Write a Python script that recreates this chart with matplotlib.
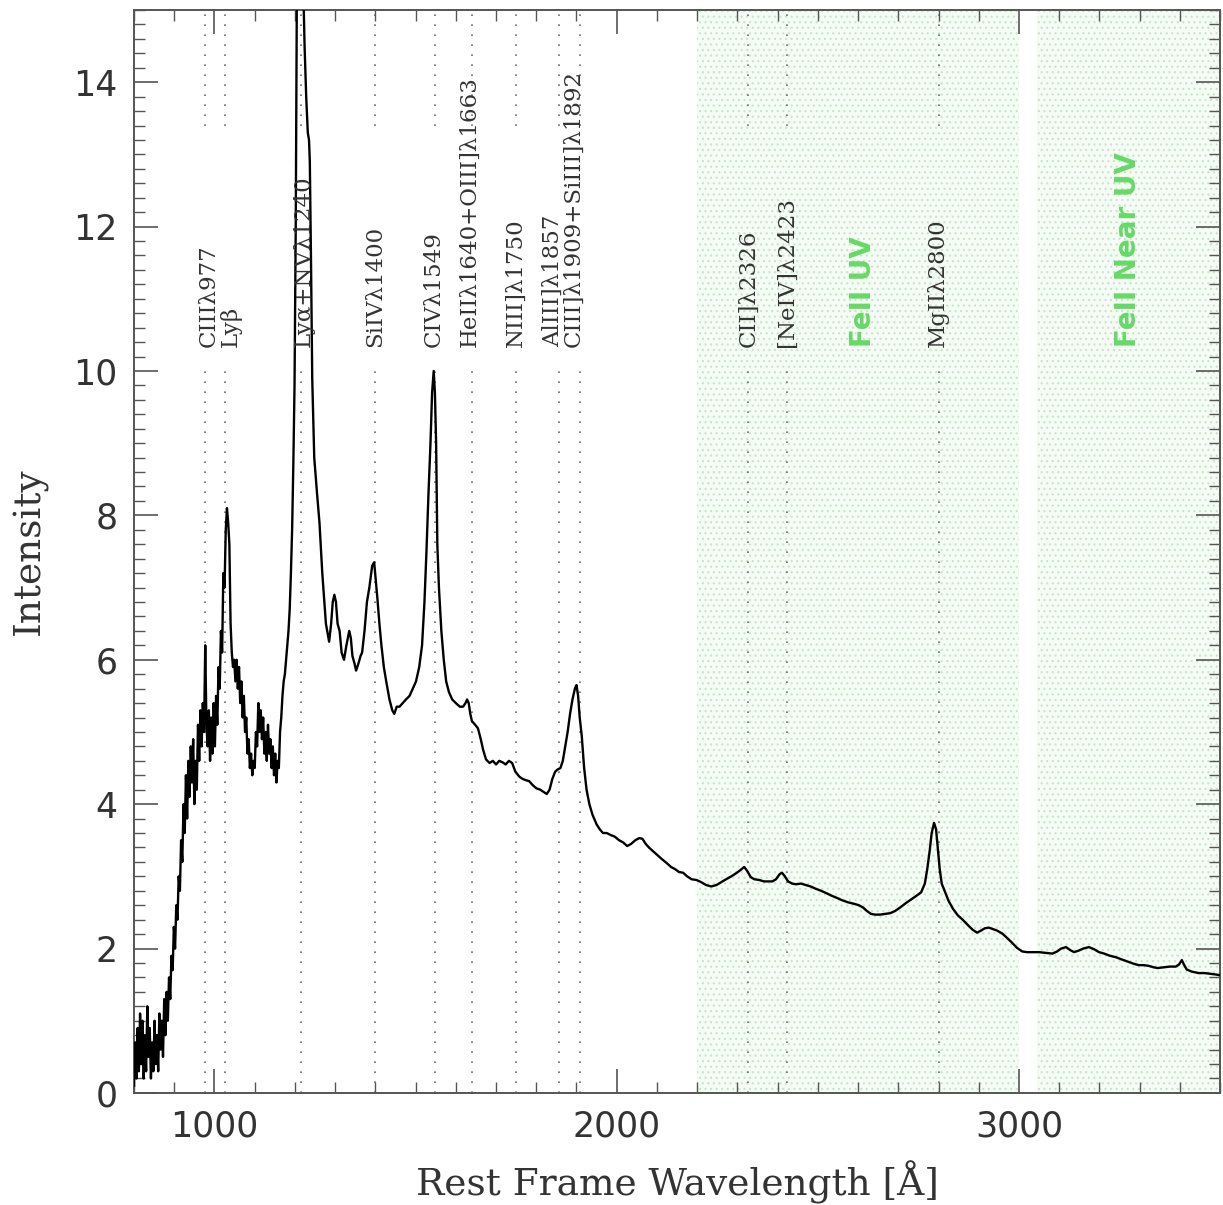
import matplotlib
matplotlib.use('Agg')
import matplotlib.pyplot as plt
from matplotlib.ticker import MultipleLocator
import numpy as np

# composite spectrum, rest frame wavelength [A] and intensity
wave = [800, 803, 806, 809, 812, 815, 818, 821, 824, 827, 830, 833, 836, 839, 842, 845, 848,
        851, 854, 857, 860, 863, 866, 869, 872, 875, 878, 881, 884, 887, 890, 893, 896, 899,
        902, 905, 908, 911, 914, 917, 920, 923, 926, 929, 932, 935, 938, 941, 944, 947, 950,
        953, 956, 959, 962, 965, 968, 971, 974, 977, 980, 983, 986, 989, 992, 995, 998, 1001,
        1004, 1007, 1010, 1013, 1016, 1019, 1022, 1025, 1028, 1031, 1034, 1037, 1040, 1043,
        1046, 1049, 1052, 1055, 1058, 1061, 1064, 1067, 1070, 1073, 1076, 1079, 1082, 1085,
        1088, 1091, 1094, 1097, 1100, 1103, 1106, 1109, 1112, 1115, 1118, 1121, 1124, 1127,
        1130, 1133, 1136, 1139, 1142, 1145, 1148, 1151, 1154, 1157, 1160, 1163, 1166, 1169,
        1172, 1175, 1178, 1181, 1184, 1187, 1190, 1193, 1196, 1199, 1202, 1205, 1208, 1212,
        1216, 1220, 1224, 1228, 1232, 1235, 1237, 1240, 1243, 1248, 1255, 1261, 1268, 1277,
        1285, 1290, 1294, 1298, 1302, 1306, 1311, 1316, 1322, 1328, 1335, 1339, 1343, 1348,
        1352, 1358, 1363, 1367, 1373, 1379, 1385, 1392, 1397, 1401, 1405, 1410, 1415, 1421,
        1427, 1435, 1442, 1447, 1453, 1460, 1468, 1476, 1485, 1493, 1501, 1509, 1516, 1522,
        1527, 1532, 1537, 1541, 1545, 1548, 1551, 1554, 1558, 1564, 1570, 1576, 1583, 1591,
        1600, 1610, 1618, 1624, 1628, 1632, 1636, 1640, 1648, 1655, 1662, 1668, 1675, 1684,
        1692, 1700, 1708, 1716, 1724, 1732, 1740, 1748, 1758, 1766, 1775, 1782, 1790, 1800,
        1810, 1818, 1826, 1833, 1840, 1847, 1853, 1860, 1866, 1872, 1878, 1884, 1890, 1896,
        1900, 1904, 1908, 1913, 1919, 1925, 1932, 1940, 1950, 1958, 1966, 1975, 1986, 1995,
        2006, 2016, 2026, 2036, 2046, 2056, 2064, 2072, 2080, 2088, 2100, 2112, 2123, 2135,
        2145, 2155, 2165, 2175, 2186, 2198, 2210, 2222, 2235, 2248, 2260, 2272, 2285, 2296,
        2306, 2317, 2325, 2333, 2342, 2354, 2366, 2378, 2387, 2396, 2405, 2411, 2418, 2426,
        2436, 2446, 2458, 2470, 2482, 2494, 2508, 2520, 2535, 2548, 2560, 2575, 2590, 2602,
        2612, 2622, 2632, 2642, 2655, 2668, 2680, 2692, 2705, 2719, 2732, 2745, 2757, 2766,
        2772, 2778, 2783, 2789, 2794, 2798, 2803, 2808, 2815, 2825, 2836, 2848, 2860, 2872,
        2885, 2896, 2906, 2915, 2925, 2935, 2945, 2958, 2970, 2983, 2995, 3008, 3020, 3035,
        3050, 3066, 3083, 3095, 3105, 3117, 3127, 3137, 3148, 3160, 3174, 3187, 3199, 3212,
        3226, 3241, 3255, 3270, 3285, 3298, 3310, 3323, 3335, 3345, 3360, 3375, 3390, 3398,
        3405, 3410, 3417, 3430, 3447, 3462, 3477, 3490, 3500]
flux = [0.1, 0.7, 0.2, 0.9, 0.3, 1.1, 0.4, 1.0, 0.2, 0.8, 0.3, 1.2, 0.5, 0.9, 0.2, 0.7, 0.3,
        1.0, 0.4, 0.8, 0.3, 1.1, 0.6, 1.0, 0.5, 1.3, 0.8, 1.4, 1.0, 1.6, 1.3, 1.9, 1.7, 2.3,
        2.0, 2.6, 2.4, 3.0, 2.8, 3.5, 3.2, 4.0, 3.6, 4.4, 3.8, 4.6, 4.1, 4.8, 4.3, 4.9, 4.0,
        4.6, 4.2, 5.1, 4.6, 5.3, 4.8, 5.4, 5.0, 6.2, 5.1, 4.8, 5.3, 4.6, 5.2, 4.7, 5.4, 4.8,
        5.5, 5.1, 5.9, 5.6, 6.4, 6.1, 7.2, 7.0, 7.8, 8.1, 7.9, 7.6, 6.5, 6.1,
        5.9, 6.0, 5.7, 6.0, 5.6, 5.9, 5.4, 5.7, 5.2, 5.5, 5.0, 5.2, 4.7, 4.9,
        4.5, 4.7, 4.4, 4.6, 4.5, 5.0, 4.8, 5.4, 5.0, 5.3, 4.9, 5.2, 4.7, 5.0,
        4.6, 5.1, 4.7, 4.9, 4.5, 4.8, 4.4, 4.7, 4.3, 4.6, 4.5, 5.0, 5.2, 5.5,
        5.7, 5.8, 6.0, 6.2, 6.4, 6.7, 7.2, 7.8, 8.7, 9.8, 12.0, 15.5, 17.5, 18.0,
        17.0, 15.5, 14.5, 13.8, 13.3, 13.2, 12.9, 11.5, 9.9, 8.8, 8.3, 7.9, 7.2, 6.5,
        6.25, 6.5, 6.8, 6.9, 6.8, 6.5, 6.4, 6.1, 6.0, 6.2, 6.4, 6.3, 6.05, 5.95,
        5.85, 5.95, 6.05, 6.1, 6.4, 6.8, 7.0, 7.3, 7.35, 7.1, 6.85, 6.5, 6.2, 5.9,
        5.7, 5.45, 5.3, 5.25, 5.35, 5.35, 5.4, 5.45, 5.5, 5.6, 5.7, 5.9, 6.2, 6.8,
        7.5, 8.3, 9.0, 9.7, 10.0, 9.7, 9.0, 7.6, 7.0, 6.4, 6.0, 5.7, 5.55, 5.45,
        5.4, 5.35, 5.35, 5.4, 5.45, 5.4, 5.25, 5.15, 5.1, 5.05, 4.9, 4.75, 4.62, 4.57,
        4.6, 4.55, 4.6, 4.58, 4.55, 4.6, 4.57, 4.45, 4.38, 4.35, 4.33, 4.32, 4.27, 4.22,
        4.2, 4.17, 4.14, 4.2, 4.35, 4.45, 4.48, 4.5, 4.6, 4.8, 5.0, 5.25, 5.45, 5.6,
        5.65, 5.5, 5.2, 4.95, 4.5, 4.2, 4.0, 3.85, 3.72, 3.65, 3.6, 3.6, 3.57, 3.55,
        3.5, 3.47, 3.42, 3.45, 3.5, 3.53, 3.52, 3.45, 3.4, 3.36, 3.3, 3.24, 3.19, 3.13,
        3.1, 3.06, 3.05, 3.0, 2.96, 2.95, 2.92, 2.88, 2.86, 2.88, 2.92, 2.96, 3.0, 3.04,
        3.08, 3.13, 3.07, 2.99, 2.96, 2.95, 2.93, 2.93, 2.93, 2.96, 3.03, 3.05, 3.0, 2.93,
        2.9, 2.89, 2.9, 2.88, 2.86, 2.83, 2.8, 2.77, 2.73, 2.7, 2.67, 2.64, 2.62, 2.6,
        2.57, 2.52, 2.48, 2.47, 2.47, 2.48, 2.49, 2.52, 2.57, 2.63, 2.68, 2.73, 2.78, 2.9,
        3.1, 3.35, 3.6, 3.74, 3.65, 3.4, 3.1, 2.9, 2.8, 2.66, 2.55, 2.46, 2.4, 2.33,
        2.26, 2.22, 2.25, 2.28, 2.29, 2.27, 2.25, 2.21, 2.15, 2.08, 2.01, 1.96, 1.95, 1.95,
        1.95, 1.94, 1.93, 1.96, 2.0, 2.02, 1.98, 1.95, 1.97, 2.0, 2.02, 1.99, 1.95, 1.93,
        1.9, 1.88, 1.85, 1.82, 1.79, 1.77, 1.77, 1.76, 1.74, 1.73, 1.74, 1.75, 1.75, 1.78,
        1.84, 1.78, 1.71, 1.68, 1.66, 1.66, 1.65, 1.64, 1.63]

# emission lines and their labels
line_wave = [977, 1026, 1216, 1400, 1549, 1640, 1750, 1857, 1909, 2326, 2423, 2800]
line_text = ['CIIIλ977', 'Lyβ', 'Lyα+NVλ1240', 'SiIVλ1400', 'CIVλ1549',
             'HeIIλ1640+OIII]λ1663', 'NIII]λ1750', 'AlIII]λ1857',
             'CIII]λ1909+SiIII]λ1892', 'CII]λ2326', '[NeIV]λ2423', 'MgIIλ2800']
text_wave = [986, 1040, 1221, 1400, 1546, 1635, 1748, 1842, 1893, 2327, 2424, 2799]

# FeII emission windows
fe_spans = [(2200, 3000), (3045, 3500)]
fe_text = ['FeII UV', 'FeII Near UV']
fe_text_wave = [2612, 3271]

plt.rcParams['hatch.linewidth'] = 0.8

fig = plt.figure(figsize=(12.23, 12.05), dpi=100)
ax = fig.add_axes([0.1096, 0.093, 0.888, 0.8987])

for lo, hi in fe_spans:
    ax.axvspan(lo, hi, facecolor='#f5fbf5', edgecolor='#c6e6c6', hatch='...',
               linewidth=0, zorder=0)

for w in line_wave:
    ax.plot([w, w], [13.4, 15], color='#6e6e6e', lw=1.2, ls=(0, (1, 5)), zorder=1)
    ax.plot([w, w], [0, 10.0], color='#6e6e6e', lw=1.2, ls=(0, (1, 5)), zorder=1)

ax.plot(wave, flux, color='black', lw=1.7, zorder=3)

for w, t in zip(text_wave, line_text):
    ax.text(w, 10.33, t, rotation=90, ha='center', va='bottom', fontsize=16.5,
            family='DejaVu Serif', color='#333333', zorder=4)
for w, t in zip(fe_text_wave, fe_text):
    ax.text(w, 10.33, t, rotation=90, ha='center', va='bottom', fontsize=20,
            fontweight='bold', color='#66d966', zorder=4)

ax.set_xlim(800, 3500)
ax.set_ylim(0, 15)
ax.xaxis.set_major_locator(MultipleLocator(1000))
ax.xaxis.set_minor_locator(MultipleLocator(100))
ax.yaxis.set_major_locator(MultipleLocator(2))
ax.yaxis.set_minor_locator(MultipleLocator(0.2))
ax.tick_params(which='both', direction='in', top=True, right=True, color='#555555')
ax.tick_params(which='major', length=17, width=1.2, labelsize=25, pad=12)
ax.tick_params(which='minor', length=8, width=1.0)
for s in ax.spines.values():
    s.set_color('#555555')
    s.set_linewidth(1.4)

ax.set_xlabel('Rest Frame Wavelength [Å]', family='DejaVu Serif', fontsize=27,
              color='#333333', labelpad=12)
ax.set_ylabel('Intensity', family='DejaVu Serif', fontsize=27, color='#333333',
              labelpad=18)
for lab in ax.get_xticklabels() + ax.get_yticklabels():
    lab.set_color('#333333')

fig.savefig('out.png', dpi=100)
